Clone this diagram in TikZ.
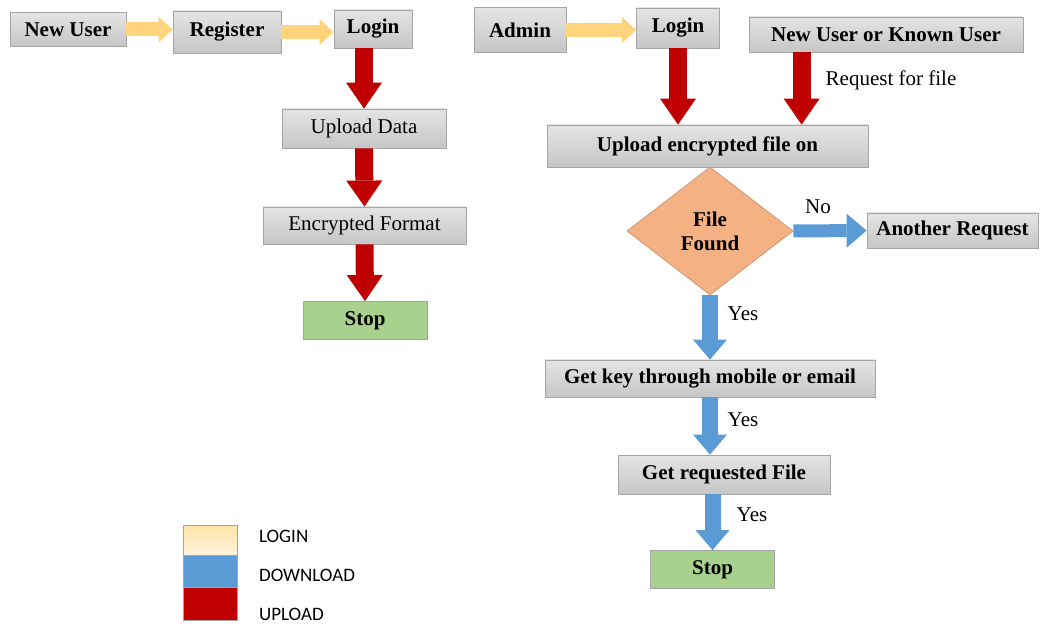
\documentclass[tikz,border=0pt]{standalone}
\usepackage{fontspec}
\setmainfont{Liberation Serif}
\newfontfamily\legendfont{Carlito}
\usetikzlibrary{arrows.meta, positioning, shapes.geometric}

\definecolor{boxedge}{RGB}{165,165,165}
\definecolor{boxtop}{RGB}{228,228,228}
\definecolor{boxbot}{RGB}{198,198,198}
\definecolor{stopgreen}{RGB}{169,209,142}
\definecolor{decision}{RGB}{244,177,131}
\definecolor{uplred}{RGB}{192,0,0}
\definecolor{dlblue}{RGB}{91,155,213}
\definecolor{loginyel}{RGB}{255,212,125}
\definecolor{legyel}{RGB}{255,228,168}

\begin{document}
\begin{tikzpicture}[x=0.5pt, y=-0.5pt, font=\fontsize{10.5}{12}\selectfont,
    box/.style={draw=boxedge, top color=boxtop, bottom color=boxbot, inner sep=2pt},
    bbox/.style={box, font=\fontsize{10.5}{12}\selectfont\bfseries},
    stopbox/.style={draw=boxedge, fill=stopgreen, font=\fontsize{10.5}{12}\selectfont\bfseries,
      minimum width=62pt, minimum height=19pt},
    uparr/.style={line width=9pt, draw=uplred, -{Triangle[width=18pt, length=13pt, line width=0pt]}},
    dlarr/.style={line width=8pt, draw=dlblue, -{Triangle[width=17pt, length=10pt, line width=0pt]}},
    inarr/.style={line width=7pt, draw=loginyel, -{Triangle[width=13pt, length=7pt, line width=0pt]}},
    legsq/.style={draw=boxedge, minimum width=27pt, inner sep=0pt},
    legtext/.style={anchor=west, font=\legendfont\fontsize{9.5}{11}\selectfont}]
  \useasboundingbox (0,0) rectangle (1042,624);

  % user side
  \node[bbox, minimum width=58pt, minimum height=17pt] (newuser) at (68,29.5) {New User};
  \node[bbox, minimum width=54pt, minimum height=21pt] (register) at (227,32) {Register};
  \node[bbox, minimum width=39pt, minimum height=19pt] (login) at (373,29) {Login};
  \node[box, minimum width=82pt, minimum height=19.5pt] (upl) at (364,128.5) {Upload Data};
  \node[box, minimum width=101.5pt, minimum height=18.5pt] (enc) at (364.5,225.5) {Encrypted Format};
  \node[stopbox] (stopa) at (365,320.5) {Stop};

  \draw[inarr] (newuser.east) -- (newuser.east -| register.west);
  \draw[inarr] (register.east) -- (register.east -| login.west);
  \draw[uparr] (upl.north |- login.south) -- (upl.north);
  \draw[uparr] (upl.south) -- (enc.north);
  \draw[uparr] (enc.south) -- (stopa.north);

  % admin side
  \node[bbox, minimum width=46pt, minimum height=22.5pt] (admin) at (520,30) {Admin};
  \node[bbox, minimum width=41.5pt, minimum height=20pt] (loginb) at (678,28) {Login};
  \node[bbox, minimum width=137pt, minimum height=17.5pt] (known) at (886,34.5) {New User or Known User};
  \node[bbox, minimum width=160.5pt, minimum height=21pt] (upenc) at (707.5,146) {Upload encrypted file on};
  \node[diamond, draw=decision!85!black, fill=decision, aspect=1.3, inner sep=0pt,
    minimum width=83pt, minimum height=64pt, align=center,
    font=\fontsize{10.5}{12}\selectfont\bfseries] (found) at (710,231) {File\\Found};
  \node[bbox, minimum width=85.5pt, minimum height=17.5pt] (again) at (952.5,230.5) {Another Request};
  \node[bbox, minimum width=165pt, minimum height=18.5pt] (getkey) at (710,378.5) {Get key through mobile or email};
  \node[bbox, minimum width=106pt, minimum height=19.5pt] (getfile) at (724,474.5) {Get requested File};
  \node[stopbox] (stopb) at (712.5,569.5) {Stop};

  \draw[inarr] (admin.east) -- (admin.east -| loginb.west);
  \draw[uparr] (loginb.south) -- (loginb.south |- upenc.north);
  \draw[uparr] ([xshift=26.5pt]known.south west) -- ([xshift=26.5pt]known.south west |- upenc.north);
  \draw[dlarr, line width=6.5pt] (found.east) -- (again.west);
  \draw[dlarr] (found.south) -- (found.south |- getkey.north);
  \draw[dlarr] (getkey.south) -- (getkey.south |- getfile.north);
  \draw[dlarr] (stopb.north |- getfile.south) -- (stopb.north);

  \node (reqlbl) at (891,80) {Request for file};
  \node (nolbl) at (818,207) {No};
  \node (yeslbla) at (743,314) {Yes};
  \node (yeslblb) at (743,420) {Yes};
  \node (yeslblc) at (752,515) {Yes};

  % legend
  \node[legsq, top color=legyel, bottom color=legyel!40, minimum height=15pt] (legin) at (210,540) {};
  \node[legsq, fill=dlblue, minimum height=16pt] (legdl) at (210,571) {};
  \node[legsq, fill=uplred, minimum height=16.5pt] (legup) at (210,603.5) {};
  \node[legtext] (legintxt) at (252,536) {LOGIN};
  \node[legtext] (legdltxt) at (252,575) {DOWNLOAD};
  \node[legtext] (leguptxt) at (252,614) {UPLOAD};
\end{tikzpicture}
\end{document}
